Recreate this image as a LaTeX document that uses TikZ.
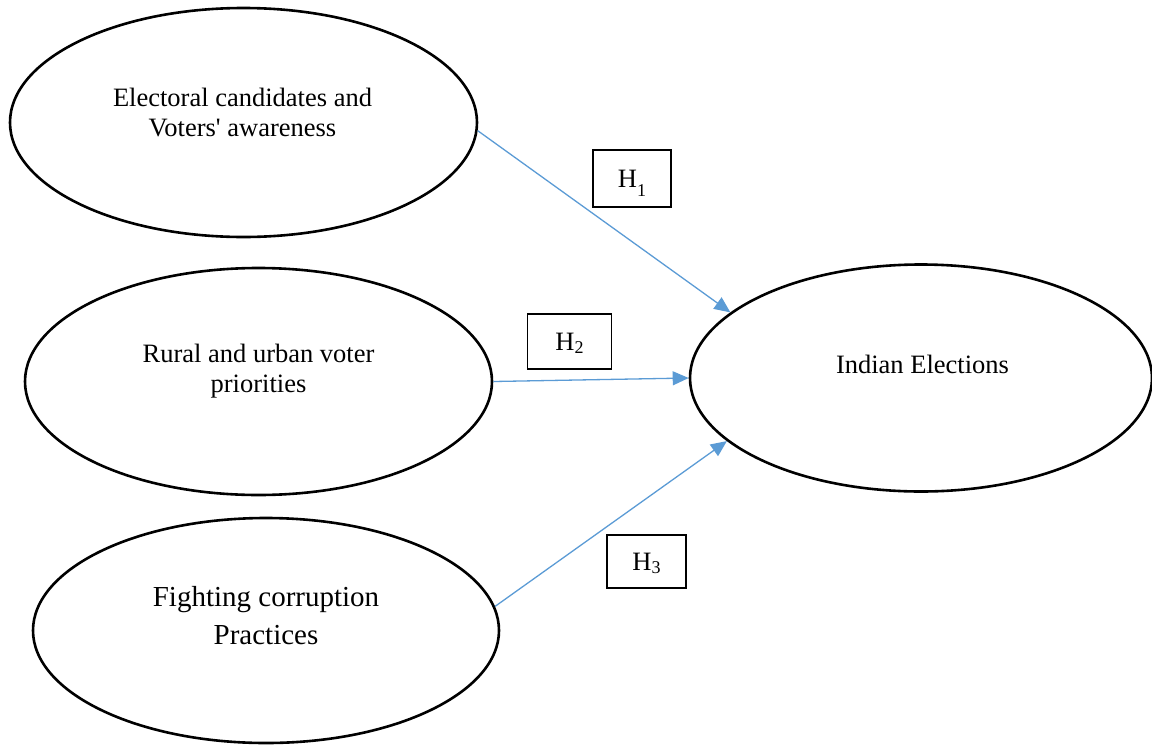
\documentclass[tikz,border=0pt]{standalone}
\usepackage{fontspec}
\setmainfont{Liberation Serif}
\usetikzlibrary{shapes.geometric,arrows.meta}
\definecolor{linkblue}{HTML}{5B9BD5}
\begin{document}
\begin{tikzpicture}[x=1pt,y=-1pt,
  oval/.style={ellipse, draw=black, line width=2.6pt, inner sep=0pt},
  lbl/.style={align=center, font=\fontsize{26.5}{30}\selectfont, inner sep=0pt},
  biglbl/.style={align=center, font=\fontsize{29}{38}\selectfont, inner sep=0pt},
  hbox/.style={draw=black, line width=1.4pt, inner sep=0pt, font=\fontsize{26.5}{30}\selectfont},
  link/.style={draw=linkblue, line width=1.3pt, -{Triangle[length=16pt,width=14pt]}}]
\useasboundingbox (0,0) rectangle (1152,745);
% ellipses
\node[oval, minimum width=467pt, minimum height=229pt] (e1) at (243.5,122.5) {};
\node[oval, minimum width=467pt, minimum height=227pt] (e2) at (258.5,381.5) {};
\node[oval, minimum width=466pt, minimum height=225pt] (e3) at (266,630.5) {};
\node[oval, minimum width=462pt, minimum height=227pt] (e4) at (921,378) {};
% texts
\node[lbl] (t1) at (242.5,113) {Electoral candidates and\\Voters\textquotesingle{} awareness};
\node[lbl] (t2) at (258.5,371) {Rural and urban voter\\priorities};
\node[biglbl] (t3) at (266,616) {Fighting corruption\\Practices};
\node[lbl] (t4) at (922.5,364) {Indian Elections};
% hypothesis boxes
\node[hbox, minimum width=78pt, minimum height=57pt] (h1) at (632,178.5)
  {H\smash{\raisebox{-9pt}{\fontsize{18}{18}\selectfont 1}}\hspace{12pt}};
\node[hbox, minimum width=84pt, minimum height=55pt] (h2) at (569.5,341.5)
  {H\smash{\raisebox{-3pt}{\fontsize{18}{18}\selectfont 2}}\hspace{17pt}};
\node[hbox, minimum width=79pt, minimum height=53pt] (h3) at (646.5,561.5)
  {H\smash{\raisebox{-3pt}{\fontsize{18}{18}\selectfont 3}}\hspace{12pt}};
% connectors
\draw[link] (e1.-2.1) -- (e4.161.7);
\draw[link] (e2.-0.4) -- (e4.180.3);
\draw[link] (e3.6.35) -- (e4.198.3);
\end{tikzpicture}
\end{document}
